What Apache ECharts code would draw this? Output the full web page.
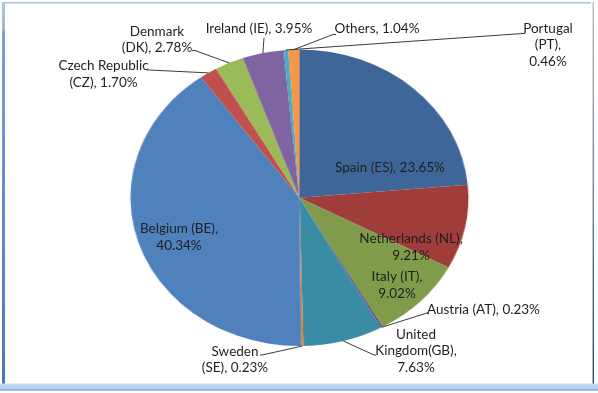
<!DOCTYPE html>
<html>
<head>
<meta charset="utf-8">
<script src="https://cdn.jsdelivr.net/npm/echarts@6/dist/echarts.min.js"></script>
<style>
  html, body { margin: 0; padding: 0; background: #fff; }
  #wrap { position: relative; width: 598px; height: 393px; overflow: hidden; background: #fff; }
  #pie { position: absolute; left: 0; top: 0; width: 525px; height: 393px; transform-origin: 0 0; }
  #lab { position: absolute; left: 0; top: 0; width: 598px; height: 393px; }
</style>
</head>
<body>
<div id="wrap">
  <div id="pie"></div>
  <div id="lab"></div>
</div>
<script>
// ---- data ----
const categories = ['Spain (ES)', 'Netherlands (NL)', 'Italy (IT)', 'Austria (AT)', 'United\nKingdom(GB)',
  'Sweden\n(SE)', 'Belgium (BE)', 'Czech Republic\n(CZ)', 'Denmark\n(DK)', 'Ireland (IE)', 'Portugal\n(PT)', 'Others'];
const shares = [23.65, 9.21, 9.02, 0.23, 7.63, 0.23, 40.34, 1.70, 2.78, 3.95, 0.46, 1.04];
const sliceColors = ['#3F6699', '#9F3D3A', '#809B4A', '#6A5287', '#3A8BA4', '#D9823C',
  '#4F81BD', '#C0504D', '#9BBB59', '#8064A2', '#4BACC6', '#F79646'];

// ---- layout (reference pixel space) ----
const CX = 299.4, CY = 197.8, RY = 148.3;
const STRETCH = 598 / 525;           // pie is drawn as an ellipse (wider than tall)
const FONT = 'Lato, "Liberation Sans", sans-serif';
const labelCfg = [
  { x: 390, y: 168, sep: ', ' },
  { x: 411, y: 247, sep: ',\n' },
  { x: 397, y: 285, sep: ',\n' },
  { x: 427, y: 310, sep: ', ', align: 'left', end: [[427, 313], [429, 313]] },
  { x: 416, y: 351, sep: ',\n', end: [[374, 355], [376, 355]] },
  { x: 235, y: 359.5, sep: ', ', end: [[262, 355], [260, 355]] },
  { x: 179, y: 237, sep: ',\n' },
  { x: 103.5, y: 74, sep: ', ', end: [[149, 70], [147, 70]] },
  { x: 157, y: 39.5, sep: ', ', end: [[195, 50.5], [192, 50.5]] },
  { x: 259, y: 29, sep: ', ', end: [[264, 38], [264, 38]] },
  { x: 548, y: 45, sep: ',\n', end: [[523, 33.5], [525, 33.5]] },
  { x: 377, y: 29, sep: ', ', end: [[333, 34.5], [336, 34.5]] }
];

document.getElementById('pie').style.transform = 'scaleX(' + STRETCH + ')';

const pieData = categories.map((c, i) => ({ name: c, value: shares[i], itemStyle: { color: sliceColors[i] } }));

// ---- pie slices (stretched horizontally) ----
const chartA = echarts.init(document.getElementById('pie'), null, { renderer: 'canvas' });
chartA.setOption({
  backgroundColor: '#fff',
  animation: false,
  series: [{
    type: 'pie',
    center: [CX / STRETCH, CY],
    radius: RY,
    startAngle: 90,
    clockwise: true,
    silent: true,
    label: { show: false },
    labelLine: { show: false },
    itemStyle: { borderWidth: 0 },
    data: pieData
  }]
});

// ---- labels and leader lines (not stretched) ----
const chartB = echarts.init(document.getElementById('lab'), null, { renderer: 'canvas' });
chartB.setOption({
  backgroundColor: 'transparent',
  animation: false,
  graphic: [
    { type: 'rect', silent: true, shape: { x: 2, y: 2, width: 3, height: 382 },
      style: { fill: new echarts.graphic.LinearGradient(0, 0, 0, 1, [
        { offset: 0, color: '#aec6e8' }, { offset: 0.07, color: '#9cb9e2' }, { offset: 0.08, color: '#7c9fd2' }, { offset: 1, color: '#4a79b8' }]) } },
    { type: 'rect', silent: true, shape: { x: 5, y: 2, width: 586, height: 1.4 }, style: { fill: '#a9c3e8' } },
    { type: 'rect', silent: true, shape: { x: 592.6, y: 2, width: 1.4, height: 382 },
      style: { fill: new echarts.graphic.LinearGradient(0, 0, 0, 1, [
        { offset: 0, color: '#b4bcc8' }, { offset: 1, color: '#2c4a78' }]) } },
    { type: 'rect', silent: true, shape: { x: 0, y: 383.6, width: 598, height: 5.8 },
      style: { fill: new echarts.graphic.LinearGradient(0, 0, 0, 1, [
        { offset: 0, color: '#c7ddf8' }, { offset: 1, color: '#a9c8f0' }]) } },
    { type: 'rect', silent: true, shape: { x: 0, y: 389.2, width: 598, height: 1.5 }, style: { fill: '#7fa6da' } }
  ],
  series: [{
    type: 'pie',
    center: [CX, CY],
    radius: RY,
    startAngle: 90,
    clockwise: true,
    silent: true,
    avoidLabelOverlap: false,
    itemStyle: { color: 'rgba(0,0,0,0)', borderWidth: 0 },
    label: {
      show: true,
      position: 'outside',
      color: '#1f1f1f',
      fontFamily: FONT,
      fontSize: 13.5,
      lineHeight: 16.5,
      formatter: p => p.name + labelCfg[p.dataIndex].sep + shares[p.dataIndex].toFixed(2) + '%'
    },
    labelLine: { show: true, lineStyle: { color: '#3a3a3a', width: 1 } },
    labelLayout: function (p) {
      const L = labelCfg[p.dataIndex];
      const res = { x: L.x, y: L.y, align: L.align || 'center', verticalAlign: 'middle' };
      if (L.end && p.labelLinePoints) {
        const p0 = p.labelLinePoints[0];
        const start = [CX + (p0[0] - CX) * STRETCH, p0[1]];
        res.labelLinePoints = [start, L.end[0], L.end[1]];
      }
      return res;
    },
    data: pieData.map((d, i) => ({
      name: d.name, value: d.value,
      labelLine: { show: !!labelCfg[i].end }
    }))
  }]
});
</script>
</body>
</html>
